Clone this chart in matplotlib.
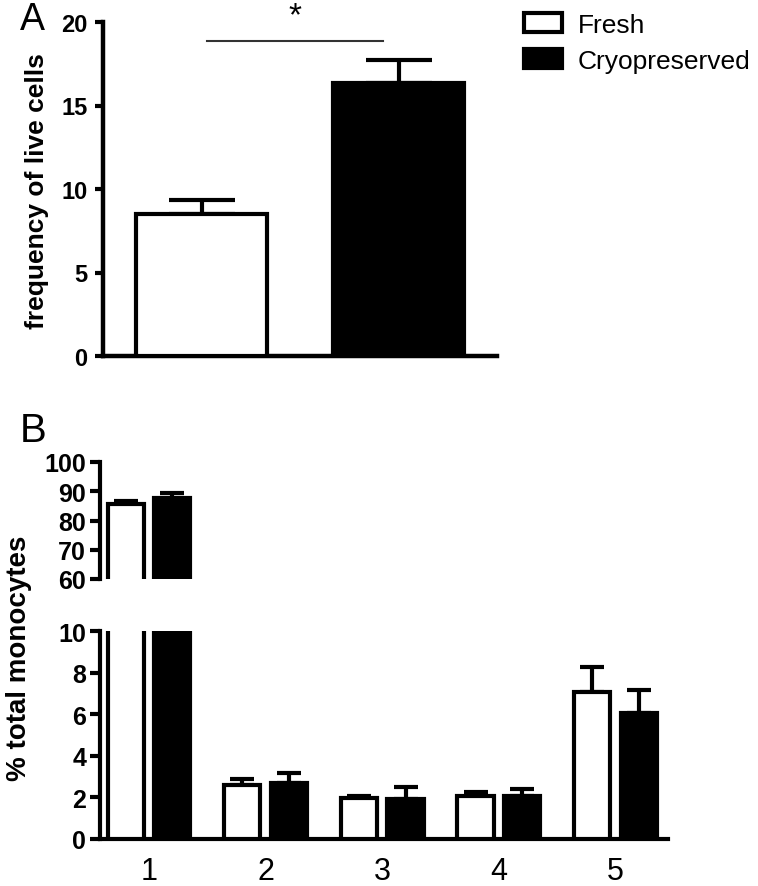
import numpy as np
import matplotlib.pyplot as plt
from matplotlib.patches import Patch

plt.rcParams['font.family'] = ['Liberation Sans', 'DejaVu Sans']

# panel A: frequency of live cells
conditions = ['Fresh', 'Cryopreserved']
live_mean = [8.5, 16.35]
live_err = [0.85, 1.35]

# panel B: % total monocytes per subset
groups = ['1', '2', '3', '4', '5']
fresh_mean = [85.6, 2.6, 1.95, 2.05, 7.08]
fresh_err = [1.1, 0.3, 0.13, 0.2, 1.2]
cryo_mean = [87.6, 2.68, 1.92, 2.05, 6.04]
cryo_err = [1.8, 0.5, 0.56, 0.35, 1.12]

W, H = 758, 887
fig = plt.figure(figsize=(W / 100, H / 100), dpi=100)


def px_axes(left, top, right, bottom):
    return fig.add_axes([left / W, 1 - bottom / H, (right - left) / W, (bottom - top) / H])


def clean(ax, lw):
    for s in ['top', 'right']:
        ax.spines[s].set_visible(False)
    for s in ['left', 'bottom']:
        ax.spines[s].set_linewidth(lw)


# ---- panel A ----
axA = px_axes(103, 23, 497, 357)
xa = np.arange(len(conditions)) + 0.5
axA.bar(xa, live_mean, width=0.67, color=['white', 'black'], edgecolor='black',
        linewidth=3, zorder=3)
axA.errorbar(xa, live_mean, yerr=[np.zeros(len(xa)), live_err], fmt='none',
             ecolor='black', elinewidth=3, capsize=24, capthick=3, zorder=2)
axA.set_xlim(0, 2)
axA.set_ylim(0, 20)
clean(axA, 3.2)
axA.set_xticks([])
a_ticks = [0, 5, 10, 15, 20]
axA.set_yticks(a_ticks, [str(t) for t in a_ticks], fontsize=17, fontweight='bold')
axA.tick_params(axis='y', width=3, length=6, pad=5)

# significance bar
axA.plot([0.53, 1.42], [18.85, 18.85], color='#333333', lw=1.5, clip_on=False)
axA.text(0.975, 21.3, '*', ha='center', va='top', fontsize=24, clip_on=False)

fig.text(49 / W, 1 - 191 / H, 'frequency of live cells', rotation=90, ha='right',
         va='center', fontsize=19, fontweight='bold')
fig.text(20 / W, 1 - 30 / H, 'A', fontsize=27, va='baseline')

# ---- legend ----
handles = [Patch(facecolor='white', edgecolor='black', linewidth=3),
           Patch(facecolor='black', edgecolor='black', linewidth=3)]
fig.legend(handles, conditions, loc='upper left', bbox_to_anchor=(524 / W, 1 - 14 / H),
           frameon=False, fontsize=19, handlelength=1.45, handleheight=0.72,
           handletextpad=0.6, labelspacing=0.45, borderpad=0, borderaxespad=0)

# ---- panel B (broken axis) ----
axBt = px_axes(100, 463, 668, 580)
axB = px_axes(100, 632, 668, 840)
xb = np.arange(len(groups))
for ax in (axBt, axB):
    ax.bar(xb - 0.2, fresh_mean, 0.31, color='white', edgecolor='black', linewidth=3, zorder=3)
    ax.bar(xb + 0.2, cryo_mean, 0.31, color='black', edgecolor='black', linewidth=3, zorder=3)
    ax.errorbar(xb - 0.2, fresh_mean, yerr=[np.zeros(len(xb)), fresh_err], fmt='none',
                ecolor='black', elinewidth=3, capsize=8.5, capthick=3, zorder=2)
    ax.errorbar(xb + 0.2, cryo_mean, yerr=[np.zeros(len(xb)), cryo_err], fmt='none',
                ecolor='black', elinewidth=3, capsize=8.5, capthick=3, zorder=2)
    ax.set_xlim(-0.42, 4.45)
    clean(ax, 3)

axBt.set_ylim(60, 100)
axBt.spines['bottom'].set_visible(False)
axBt.set_xticks([])
t_ticks = [60, 70, 80, 90, 100]
axBt.set_yticks(t_ticks, [str(t) for t in t_ticks], fontsize=18, fontweight='bold')
axBt.tick_params(axis='y', width=3, length=7, pad=3)

axB.set_ylim(0, 10)
b_ticks = [0, 2, 4, 6, 8, 10]
axB.set_yticks(b_ticks, [str(t) for t in b_ticks], fontsize=18, fontweight='bold')
axB.tick_params(axis='y', width=3, length=7, pad=3)
axB.set_xticks(xb, groups, fontsize=22, family=['Liberation Sans Narrow', 'Liberation Sans'])
axB.tick_params(axis='x', length=0, pad=12)

fig.text(32 / W, 1 - 658 / H, '% total monocytes', rotation=90, ha='right',
         va='center', fontsize=20, fontweight='bold')
fig.text(20 / W, 1 - 442 / H, 'B', fontsize=29, va='baseline')

fig.savefig('out.png', dpi=100)
